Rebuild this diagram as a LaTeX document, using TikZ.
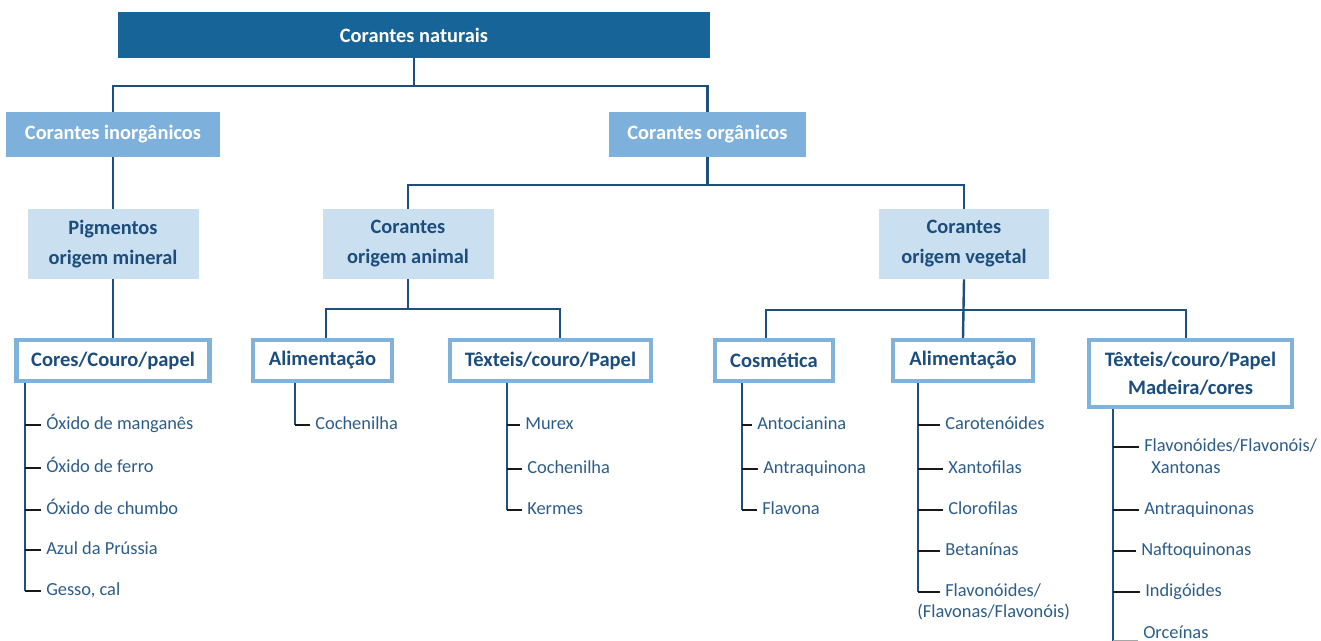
\documentclass[tikz,border=0pt]{standalone}
\usepackage{fontspec}
\setmainfont{Carlito}
\usepackage{tikz}
\usetikzlibrary{positioning}
\definecolor{darkbox}{HTML}{176598}
\definecolor{midbox}{HTML}{7DB1DB}
\definecolor{palebox}{HTML}{CADFF0}
\definecolor{edgeblue}{HTML}{80B3DC}
\definecolor{lineblue}{HTML}{1F4F7F}
\definecolor{titleblue}{HTML}{1C4D7C}
\definecolor{listblue}{HTML}{2C5C89}

\begin{document}
\begin{tikzpicture}[x=0.75pt,y=-0.75pt,
  boxfont/.style={font=\bfseries\fontsize{15.3}{22.5}\selectfont},
  topbox/.style={boxfont, fill=darkbox, text=white, inner sep=0pt, minimum width=444pt, minimum height=34.5pt},
  kindbox/.style={boxfont, fill=midbox, text=white, inner sep=0pt, minimum height=33.75pt},
  originbox/.style={boxfont, fill=palebox, text=titleblue, align=center, inner sep=0pt, minimum height=52.5pt},
  usebox/.style={font=\bfseries\fontsize{15.4}{21}\selectfont, draw=edgeblue, line width=3.2pt, fill=white,
    text=titleblue, align=center, inner sep=0pt, minimum height=30.75pt},
  item/.style={anchor=west, font=\fontsize{13.8}{16}\selectfont, text=listblue, inner xsep=3.75pt, inner ysep=0pt,
    text height=9.5pt, text depth=2.7pt},
  conn/.style={draw=lineblue, line width=1.8pt},
  tick/.style={draw=black!90, line width=1.6pt}]
\useasboundingbox (0,0) rectangle (1321,641);

% boxes
\node[topbox] (nat) at (414,35) {Corantes naturais};
\node[kindbox, minimum width=160.5pt] (inorg) at (113,134.5) {Corantes inorgânicos};
\node[kindbox, minimum width=147.75pt] (org) at (707.5,134.5) {Corantes orgânicos};
\node[originbox, minimum width=128.25pt] (mineral) at (113,244) {Pigmentos\\origem mineral};
\node[originbox, minimum width=128.25pt] (animal) at (408,244) {Corantes\\origem animal};
\node[originbox, minimum width=127.5pt] (vegetal) at (964,244) {Corantes\\origem vegetal};
\node[usebox, minimum width=144.75pt] (cores) at (113,360.5) {Cores/Couro/papel};
\node[usebox, minimum width=104.25pt] (alimA) at (322.5,360.5) {Alimentação};
\node[usebox, minimum width=150.75pt] (texA) at (550.5,360.5) {Têxteis/couro/Papel};
\node[usebox, minimum width=88.5pt] (cosm) at (774,360.5) {Cosmética};
\node[usebox, minimum width=105pt] (alimV) at (963,360.5) {Alimentação};
\node[usebox, minimum width=152.25pt, minimum height=50.25pt] (texV) at (1190.5,373.5) {Têxteis/couro/Papel\\Madeira/cores};

% tree lines
\coordinate (j1) at (414,86);
\coordinate (j2) at (707.5,185);
\coordinate (j3) at (408,309);
\coordinate (j4) at (963,310);
\draw[conn] (nat.south) -- (j1);
\draw[conn] (inorg.north) |- (j1) -| (org.north);
\draw[conn] (inorg.south) -- (mineral.north);
\draw[conn] (mineral.south) -- (cores.north);
\draw[conn] (org.south) -- (j2);
\draw[conn] (animal.north) |- (j2) -| (vegetal.north);
\draw[conn] (animal.south) -- (j3);
\draw[conn] ([xshift=2.6pt]alimA.north) |- (j3) -| ([xshift=7pt]texA.north);
\draw[conn] (vegetal.south) -- (alimV.north);
\draw[conn] ([xshift=-6pt]cosm.north) |- (j4) -| ([xshift=-3.4pt]texV.north);

% Cores/Couro/papel
\node[item] (mn) at (41,425) {Óxido de manganês};
\node[item] (fe) at (41,468) {Óxido de ferro};
\node[item] (pb) at (41,510) {Óxido de chumbo};
\node[item] (az) at (41,550) {Azul da Prússia};
\node[item] (ge) at (41,591) {Gesso, cal};
\coordinate (tc) at (25,383);
\draw[conn] (tc) -- (tc |- ge.west);
\draw[tick] (tc |- mn.west) -- (mn.west);
\draw[tick] (tc |- fe.west) -- (fe.west);
\draw[tick] (tc |- pb.west) -- (pb.west);
\draw[tick] (tc |- az.west) -- (az.west);
\draw[tick] (tc |- ge.west) -- (ge.west);

% Alimentacao (animal)
\node[item] (cochA) at (310,425) {Cochenilha};
\coordinate (ta) at (295,383);
\draw[conn] (ta) -- (ta |- cochA.west);
\draw[tick] (ta |- cochA.west) -- (cochA.west);

% Texteis (animal)
\node[item] (mu) at (520,425) {Murex};
\node[item] (cochB) at (522,469) {Cochenilha};
\node[item] (ke) at (522,510) {Kermes};
\coordinate (tt) at (507,383);
\draw[conn] (tt) -- (tt |- ke.west);
\draw[tick] (tt |- mu.west) -- (mu.west);
\draw[tick] (tt |- cochB.west) -- (cochB.west);
\draw[tick] (tt |- ke.west) -- (ke.west);

% Cosmetica
\node[item] (antoc) at (752,425) {Antocianina};
\node[item] (antr) at (758,469) {Antraquinona};
\node[item] (flv) at (757,510) {Flavona};
\coordinate (tk) at (742,383);
\draw[conn] (tk) -- (tk |- flv.west);
\draw[tick] (tk |- antoc.west) -- (antoc.west);
\draw[tick] (tk |- antr.west) -- (antr.west);
\draw[tick] (tk |- flv.west) -- (flv.west);

% Alimentacao (vegetal)
\node[item] (car) at (940,425) {Carotenóides};
\node[item] (xan) at (943,469) {Xantofilas};
\node[item] (clo) at (943,510) {Clorofilas};
\node[item] (bet) at (940,551) {Betanínas};
\node[item] (flvd) at (940,592) {Flavonóides/};
\node[item] (flvd2) at (912,613) {(Flavonas/Flavonóis)};
\coordinate (tv) at (918,383);
\draw[conn] (tv) -- (tv |- flvd.west);
\draw[tick] (tv |- car.west) -- (car.west);
\draw[tick] (tv |- xan.west) -- (xan.west);
\draw[tick] (tv |- clo.west) -- (clo.west);
\draw[tick] (tv |- bet.west) -- (bet.west);
\draw[tick] (tv |- flvd.west) -- (flvd.west);

% Texteis/Madeira (vegetal)
\node[item] (flx) at (1139,447) {Flavonóides/Flavonóis/};
\node[item] (xant) at (1146,469) {Xantonas};
\node[item] (aq) at (1139,510) {Antraquinonas};
\node[item] (nq) at (1136,551) {Naftoquinonas};
\node[item] (ind) at (1140,592) {Indigóides};
\node[item] (orc) at (1138,634) {Orceínas};
\coordinate (tx) at (1113,409);
\draw[conn] (tx) -- ++(0,240);
\draw[tick] (tx |- flx.west) -- (flx.west);
\draw[tick] (tx |- aq.west) -- (aq.west);
\draw[tick] (tx |- nq.west) -- (nq.west);
\draw[tick] (tx |- ind.west) -- (ind.west);
\draw[tick, black!35] (1113,641) -- (orc.west |- 0,641);
\end{tikzpicture}
\end{document}
